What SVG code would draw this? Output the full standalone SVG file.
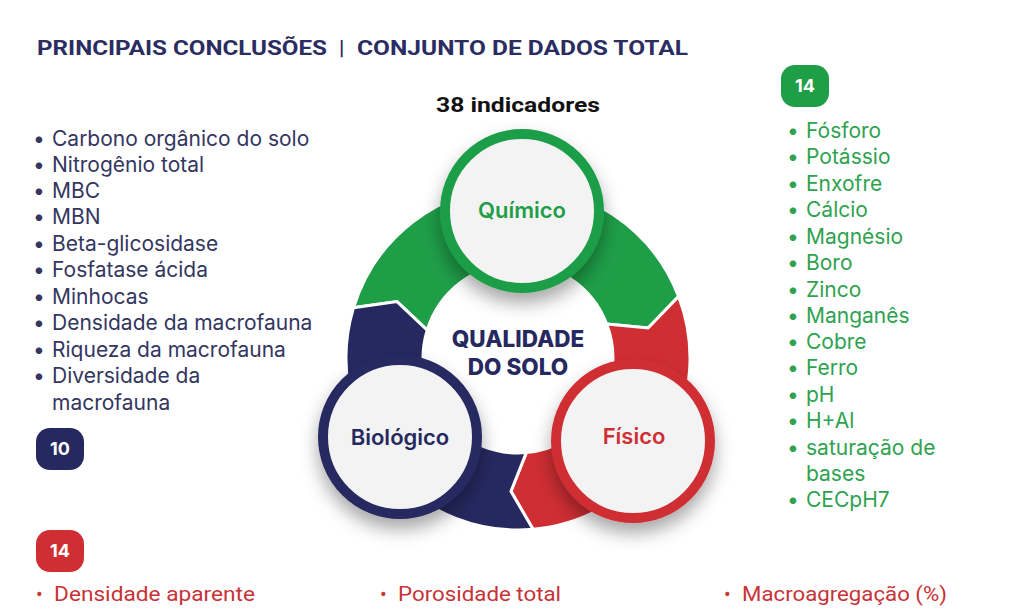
<svg xmlns="http://www.w3.org/2000/svg" width="1024" height="608" viewBox="0 0 1024 608">
<defs>
<filter id="sh" x="-40%" y="-40%" width="180%" height="190%">
<feDropShadow dx="0" dy="10" stdDeviation="9" flood-color="#000" flood-opacity="0.35"/>
</filter>
<style>
.title{font-family:Roboto,"Liberation Sans",sans-serif;font-weight:700;font-size:21px;fill:#2b2d62}
.nav{font-family:Inter,"Liberation Sans",sans-serif;font-size:21px;fill:#34365f}
.grn{font-family:Inter,"Liberation Sans",sans-serif;font-size:21px;fill:#2ea24f}
.red{font-family:Roboto,"Liberation Sans",sans-serif;font-size:20px;fill:#c73337}
.badge{font-family:Inter,"Liberation Sans",sans-serif;font-weight:700;font-size:18px;fill:#fff;text-anchor:middle}
.lbl{font-family:Inter,"Liberation Sans",sans-serif;font-weight:600;font-size:22px;text-anchor:middle}
.seg{stroke:#fff;stroke-width:3;stroke-linejoin:miter}
.node{fill:#f3f3f3;stroke-width:10}
</style>
</defs>
<rect width="1024" height="608" fill="#fff"/>
<text class="title" x="37" y="55" textLength="290" lengthAdjust="spacingAndGlyphs">PRINCIPAIS CONCLUSÕES</text>
<text class="title" x="339" y="55">|</text>
<text class="title" x="357" y="55" textLength="331" lengthAdjust="spacingAndGlyphs">CONJUNTO DE DADOS TOTAL</text>
<text x="518" y="112" text-anchor="middle" font-family="Roboto, 'Liberation Sans', sans-serif" font-weight="700" font-size="21" fill="#111" textLength="164" lengthAdjust="spacingAndGlyphs">38 indicadores</text>

<g id="connectors">
<path class="seg" fill="#1f9e48" d="M353.5,307.7 A172,172 0 0 1 678.6,296.4 L648.1,328.0 L606.7,324.0 A95,95 0 0 0 427.2,330.2 L397.0,301.6 Z"/>
<path class="seg" fill="#cf2e33" d="M678.6,296.4 A172,172 0 0 1 533.0,529.3 L511.0,491.3 L526.3,452.6 A95,95 0 0 0 606.7,324.0 L648.1,328.0 Z"/>
<path class="seg" fill="#262960" d="M533.0,529.3 A172,172 0 0 1 353.5,307.7 L397.0,301.6 L427.2,330.2 A95,95 0 0 0 526.3,452.6 L511.0,491.3 Z"/>
</g>

<g id="center">
<text x="518" y="347" text-anchor="middle" font-family="Inter, 'Liberation Sans', sans-serif" font-weight="800" font-size="22.5" fill="#262960">QUALIDADE</text>
<text x="518" y="375" text-anchor="middle" font-family="Inter, 'Liberation Sans', sans-serif" font-weight="800" font-size="22.5" fill="#262960">DO SOLO</text>
</g>

<g id="quimico">
<circle class="node" cx="522" cy="211" r="77" stroke="#1f9e48" filter="url(#sh)"/>
<text class="lbl" x="522" y="218" fill="#1f9e48">Químico</text>
</g>
<g id="biologico">
<circle class="node" cx="400" cy="437" r="77" stroke="#262960" filter="url(#sh)"/>
<text class="lbl" x="400" y="445" fill="#262960">Biológico</text>
</g>
<g id="fisico">
<circle class="node" cx="633" cy="441" r="77" stroke="#cf2e33" filter="url(#sh)"/>
<text class="lbl" x="634" y="444" fill="#cf2e33">Físico</text>
</g>

<g id="biologico-list">
<text class="nav">
<tspan x="33" y="146">•</tspan><tspan x="52" y="146">Carbono orgânico do solo</tspan>
<tspan x="33" y="172">•</tspan><tspan x="52" y="172">Nitrogênio total</tspan>
<tspan x="33" y="198">•</tspan><tspan x="52" y="198">MBC</tspan>
<tspan x="33" y="224">•</tspan><tspan x="52" y="224">MBN</tspan>
<tspan x="33" y="251">•</tspan><tspan x="52" y="251">Beta-glicosidase</tspan>
<tspan x="33" y="277">•</tspan><tspan x="52" y="277">Fosfatase ácida</tspan>
<tspan x="33" y="304">•</tspan><tspan x="52" y="304">Minhocas</tspan>
<tspan x="33" y="330">•</tspan><tspan x="52" y="330">Densidade da macrofauna</tspan>
<tspan x="33" y="357">•</tspan><tspan x="52" y="357">Riqueza da macrofauna</tspan>
<tspan x="33" y="383">•</tspan><tspan x="52" y="383">Diversidade da</tspan>
<tspan x="52" y="410">macrofauna</tspan>
</text>
<rect x="36" y="428" width="48" height="42" rx="14" fill="#262960"/>
<text class="badge" x="60" y="455">10</text>
</g>

<g id="quimico-list">
<rect x="781" y="65" width="48" height="42" rx="14" fill="#1f9e48"/>
<text class="badge" x="805" y="92">14</text>
<text class="grn">
<tspan x="787" y="138">•</tspan><tspan x="806" y="138">Fósforo</tspan>
<tspan x="787" y="164">•</tspan><tspan x="806" y="164">Potássio</tspan>
<tspan x="787" y="191">•</tspan><tspan x="806" y="191">Enxofre</tspan>
<tspan x="787" y="217">•</tspan><tspan x="806" y="217">Cálcio</tspan>
<tspan x="787" y="244">•</tspan><tspan x="806" y="244">Magnésio</tspan>
<tspan x="787" y="270">•</tspan><tspan x="806" y="270">Boro</tspan>
<tspan x="787" y="297">•</tspan><tspan x="806" y="297">Zinco</tspan>
<tspan x="787" y="323">•</tspan><tspan x="806" y="323">Manganês</tspan>
<tspan x="787" y="349">•</tspan><tspan x="806" y="349">Cobre</tspan>
<tspan x="787" y="375">•</tspan><tspan x="806" y="375">Ferro</tspan>
<tspan x="787" y="402">•</tspan><tspan x="806" y="402">pH</tspan>
<tspan x="787" y="428">•</tspan><tspan x="806" y="428">H+Al</tspan>
<tspan x="787" y="455">•</tspan><tspan x="806" y="455">saturação de</tspan>
<tspan x="806" y="481">bases</tspan>
<tspan x="787" y="507">•</tspan><tspan x="806" y="507">CECpH7</tspan>
</text>
</g>

<g id="fisico-list">
<rect x="36" y="530" width="48" height="42" rx="14" fill="#cf2e33"/>
<text class="badge" x="60" y="557">14</text>
<text class="red">
<tspan x="36" y="601">•</tspan><tspan x="54" y="601" textLength="201" lengthAdjust="spacingAndGlyphs">Densidade aparente</tspan>
<tspan x="380" y="601">•</tspan><tspan x="398" y="601" textLength="163" lengthAdjust="spacingAndGlyphs">Porosidade total</tspan>
<tspan x="724" y="601">•</tspan><tspan x="742" y="601" textLength="205" lengthAdjust="spacingAndGlyphs">Macroagregação (%)</tspan>
</text>
</g>
</svg>
